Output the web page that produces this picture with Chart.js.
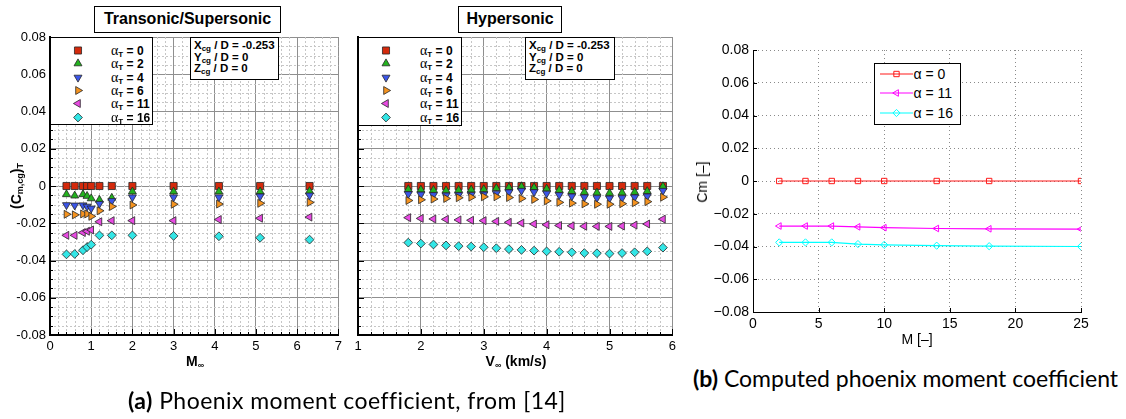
<!DOCTYPE html>
<html lang="en">
<head>
<meta charset="UTF-8">
<title>Phoenix moment coefficient</title>
<script src="https://cdn.jsdelivr.net/npm/chart.js"></script>
<style>
  body { margin: 0; background: #fff; }
  #page { position: relative; width: 1126px; height: 419px; overflow: hidden;
          font-family: 'Liberation Sans', Arial, sans-serif; color: #000; }
  #page canvas { position: absolute; }
  .box { position: absolute; background: #fff; border: 1px solid #000; box-sizing: border-box; }
  .title { font-weight: bold; font-size: 16px; text-align: center; line-height: 24px; }
  .leg { font-weight: bold; font-size: 12px; }
  .row { position: absolute; left: 0; right: 0; height: 13px; line-height: 13px; white-space: nowrap; }
  .row span.txt { position: absolute; }
  .alpha { font-weight: normal; font-family: 'Liberation Serif', serif; font-size: 14px; }
  sub { font-size: 8px; vertical-align: -2px; line-height: 0; }
  .note { font-weight: bold; font-size: 11.5px; line-height: 11.5px; padding: 2px 0 0 3px; white-space: nowrap; }
  .lbl { position: absolute; white-space: nowrap; font-weight: bold; font-size: 14px; line-height: 16px; }
  .lbl sub { font-size: 9px; }
  .mlab { position: absolute; white-space: nowrap; font-size: 14px; line-height: 16px; }
  .legB { font-size: 14px; }
  .legB .row { height: 18px; line-height: 18px; }
  .cap { position: absolute; font-family: Lato, sans-serif; font-size: 23px; line-height: 26px; white-space: nowrap; }
</style>
</head>
<body>
<div id="page">
  <canvas id="chartTS" width="346" height="375" style="left:0;top:0"></canvas>
  <canvas id="chartHyp" width="330" height="375" style="left:350px;top:0"></canvas>
  <canvas id="chartB" width="436" height="360" style="left:690px;top:0"></canvas>

  <div class="box title" style="left:94px;top:6px;width:187px;height:27px">Transonic/Supersonic</div>
  <div class="box title" style="left:458px;top:6px;width:104px;height:27px">Hypersonic</div>

  <div class="box leg" id="legTS" style="left:50px;top:37px;width:103px;height:88px"></div>
  <div class="box leg" id="legHyp" style="left:358px;top:37px;width:104px;height:89px"></div>

  <div class="box note" style="left:190px;top:37px;width:89px;height:43px">X<sub>cg</sub> / D = -0.253<br>Y<sub>cg</sub> / D = 0<br>Z<sub>cg</sub> / D = 0</div>
  <div class="box note" style="left:525px;top:37px;width:90px;height:43px">X<sub>cg</sub> / D = -0.253<br>Y<sub>cg</sub> / D = 0<br>Z<sub>cg</sub> / D = 0</div>

  <div class="lbl" style="left:16px;top:186px;transform:translate(-50%,-50%) rotate(-90deg)">(C<sub>m,cg</sub>)<sub>T</sub></div>
  <div class="lbl" style="left:195px;top:361px;transform:translate(-50%,-50%)">M<sub>∞</sub></div>
  <div class="lbl" style="left:516px;top:361px;transform:translate(-50%,-50%)">V<sub>∞</sub> (km/s)</div>

  <div class="box legB" id="legB" style="left:874px;top:63px;width:87px;height:62px;border-width:1.5px"></div>
  <div class="mlab" style="left:702px;top:182px;transform:translate(-50%,-50%) rotate(-90deg)">Cm [–]</div>
  <div class="mlab" style="left:917px;top:339px;transform:translate(-50%,-50%)">M [–]</div>

  <div class="cap" style="left:128px;top:387px;letter-spacing:0.45px"><b>(a)</b> Phoenix moment coefficient, from [14]</div>
  <div class="cap" style="left:693px;top:365px"><b>(b)</b> Computed phoenix moment coefficient</div>
</div>

<script>
  // ---- data ----
  const alphaT = ['0', '2', '4', '6', '11', '16'];

  // transonic / supersonic, x = Mach
  const machTS = [0.4, 0.6, 0.8, 0.9, 1.0, 1.2, 1.5, 2.0, 3.0, 4.1, 5.1, 6.3];
  const cmTS0  = [0, 0, 0, 0, 0, 0, 0, 0, 0, 0, 0, 0];
  const cmTS2  = [-0.0045, -0.0052, -0.0045, -0.0054, -0.0067, -0.0075, -0.0064, -0.003, -0.003, -0.003, -0.003, -0.0028];
  const cmTS4  = [-0.0102, -0.0104, -0.0103, -0.011, -0.012, -0.0095, -0.008, -0.006, -0.006, -0.006, -0.0055, -0.005];
  const cmTS6  = [-0.0152, -0.0155, -0.015, -0.015, -0.0163, -0.0133, -0.011, -0.0102, -0.0098, -0.0097, -0.0093, -0.0088];
  const cmTS11 = [-0.0265, -0.0265, -0.025, -0.0243, -0.0236, -0.0192, -0.0186, -0.0186, -0.0186, -0.018, -0.0173, -0.0167];
  const cmTS16 = [-0.0367, -0.0365, -0.0345, -0.0328, -0.0315, -0.0265, -0.0265, -0.0265, -0.0268, -0.027, -0.0278, -0.0288];

  // hypersonic, x = velocity (km/s)
  const velHyp  = [1.8, 2.0, 2.2, 2.4, 2.6, 2.8, 3.0, 3.2, 3.4, 3.6, 3.8, 4.0, 4.2, 4.4, 4.6, 4.8, 5.0, 5.2, 5.4, 5.6, 5.85];
  const cmHyp0  = [0, 0, 0, 0, 0, 0, 0, 0, 0, 0, 0, 0, 0, 0, 0, 0, 0, 0, 0, 0, 0];
  const cmHyp2  = [-0.0018, -0.002, -0.0022, -0.0024, -0.0022, -0.002, -0.0018, -0.0012, -0.0008, -0.0003, -0.0008, -0.0015, -0.0022, -0.0028, -0.0033, -0.0036, -0.0038, -0.0036, -0.0033, -0.0028, -0.0002];
  const cmHyp4  = [-0.0043, -0.0045, -0.0048, -0.005, -0.0048, -0.0047, -0.0045, -0.004, -0.0033, -0.0025, -0.0032, -0.004, -0.0048, -0.0055, -0.006, -0.0064, -0.0066, -0.0064, -0.006, -0.0055, -0.0025];
  const cmHyp6  = [-0.0078, -0.0074, -0.007, -0.0067, -0.0063, -0.006, -0.0058, -0.0058, -0.0062, -0.0067, -0.0072, -0.008, -0.0088, -0.0092, -0.0096, -0.0098, -0.0098, -0.0095, -0.009, -0.0084, -0.006];
  const cmHyp11 = [-0.017, -0.0174, -0.0177, -0.0179, -0.0182, -0.0184, -0.0186, -0.019, -0.0195, -0.0199, -0.0204, -0.0208, -0.0212, -0.0214, -0.0216, -0.0217, -0.0217, -0.0215, -0.021, -0.0204, -0.0178];
  const cmHyp16 = [-0.0304, -0.0309, -0.0314, -0.0319, -0.0323, -0.0325, -0.0329, -0.0334, -0.0339, -0.0343, -0.0347, -0.0351, -0.0353, -0.0356, -0.036, -0.0361, -0.0363, -0.036, -0.0356, -0.0351, -0.0331];

  // computed, x = Mach
  const alphaB = ['0', '11', '16'];
  const machB  = [2, 4, 6, 8, 10, 14, 18, 25];
  const cmB0   = [0, 0, 0, 0, 0, 0, 0, 0];
  const cmB11  = [-0.0275, -0.0275, -0.0275, -0.028, -0.0285, -0.029, -0.0292, -0.0294];
  const cmB16  = [-0.0375, -0.0375, -0.0375, -0.0385, -0.039, -0.0395, -0.0398, -0.04];

  // ---- styles ----
  const fam = "'Liberation Sans', Arial, sans-serif";
  Chart.defaults.font.family = fam;

  const tecColors = ['#d42a0c', '#22b21e', '#3b55e8', '#f5931f', '#e84ae2', '#33e6e6'];
  const tecMarkers = [
    { pointStyle: 'rect', rotation: 0, radius: 5 },
    { pointStyle: 'triangle', rotation: 0, radius: 4.6 },
    { pointStyle: 'triangle', rotation: 180, radius: 4.6 },
    { pointStyle: 'triangle', rotation: 90, radius: 4.6 },
    { pointStyle: 'triangle', rotation: 270, radius: 4.6 },
    { pointStyle: 'rectRot', rotation: 0, radius: 4.4 }
  ];
  const bColors = ['#ff1a1a', '#ff00ff', '#00ffff'];
  const bMarkers = [
    { pointStyle: 'rect', rotation: 0, radius: 3.8 },
    { pointStyle: 'triangle', rotation: 270, radius: 3.8 },
    { pointStyle: 'rectRot', rotation: 0, radius: 3.6 }
  ];

  // minor grid + inward ticks
  const framePlugin = {
    id: 'frame',
    beforeDatasetsDraw(chart, args, o) {
      if (!o.minorX) return;
      const { ctx, chartArea: a, scales: { x, y } } = chart;
      ctx.save();
      ctx.lineWidth = 1;
      ctx.strokeStyle = o.minorColor;
      ctx.setLineDash(o.dash);
      const nx = Math.round((x.max - x.min) / o.minorX);
      for (let i = 1; i < nx; i++) {
        if (i % o.everyX === 0) continue;
        const px = Math.round(x.getPixelForValue(x.min + i * o.minorX)) + 0.5;
        ctx.beginPath(); ctx.moveTo(px, a.top); ctx.lineTo(px, a.bottom); ctx.stroke();
      }
      const ny = Math.round((y.max - y.min) / o.minorY);
      for (let i = 1; i < ny; i++) {
        if (i % o.everyY === 0) continue;
        const py = Math.round(y.getPixelForValue(y.min + i * o.minorY)) + 0.5;
        ctx.beginPath(); ctx.moveTo(a.left, py); ctx.lineTo(a.right, py); ctx.stroke();
      }
      ctx.restore();
    },
    afterDatasetsDraw(chart, args, o) {
      if (!o.stepX) return;
      const { ctx, chartArea: a, scales: { x, y } } = chart;
      ctx.save();
      ctx.strokeStyle = '#000';
      ctx.lineWidth = 1;
      const nx = Math.round((x.max - x.min) / o.stepX);
      for (let i = 0; i <= nx; i++) {
        const len = i % o.everyX === 0 ? o.tickMajor : o.tickMinor;
        const px = Math.round(x.getPixelForValue(x.min + i * o.stepX)) + 0.5;
        ctx.beginPath(); ctx.moveTo(px, a.bottom); ctx.lineTo(px, a.bottom - len); ctx.stroke();
      }
      const ny = Math.round((y.max - y.min) / o.stepY);
      for (let i = 0; i <= ny; i++) {
        const len = i % o.everyY === 0 ? o.tickMajor : o.tickMinor;
        const py = Math.round(y.getPixelForValue(y.min + i * o.stepY)) + 0.5;
        ctx.beginPath(); ctx.moveTo(a.left, py); ctx.lineTo(a.left + len, py); ctx.stroke();
      }
      ctx.restore();
    }
  };
  Chart.register(framePlugin);

  function tecLabel(v) {
    return Math.abs(v) < 1e-9 ? '0' : v.toFixed(2);
  }
  function matLabel(v) {
    if (Math.abs(v) < 1e-9) return '0';
    return v < 0 ? '\u2212' + Math.abs(v).toFixed(2) : v.toFixed(2);
  }

  function tecSets(xs, series) {
    return series.map((ys, i) => ({
      label: 'αT = ' + alphaT[i],
      data: xs.map((x, j) => ({ x: x, y: ys[j] })),
      showLine: false,
      pointStyle: tecMarkers[i].pointStyle,
      pointRotation: tecMarkers[i].rotation,
      pointRadius: tecMarkers[i].radius,
      pointBackgroundColor: tecColors[i],
      backgroundColor: tecColors[i],
      pointBorderColor: '#262626',
      borderColor: '#262626',
      pointBorderWidth: 0.8,
      order: series.length - i
    }));
  }

  function tecOptions(xmin, xmax, showY, pad, yWidth) {
    return {
      responsive: false,
      animation: false,
      events: [],
      layout: { padding: pad },
      plugins: {
        legend: { display: false },
        tooltip: { enabled: false },
        frame: { minorX: 0.2, everyX: 5, minorY: 0.005, everyY: 4, minorColor: '#c6c6c6', dash: [2, 2],
                 stepX: 0.2, stepY: 0.005, tickMajor: 6, tickMinor: 3 }
      },
      scales: {
        x: {
          type: 'linear', min: xmin, max: xmax,
          ticks: { stepSize: 1, color: '#000', font: { size: 13 }, padding: 4, maxRotation: 0, autoSkip: false },
          grid: { color: '#8f8f8f', lineWidth: 1, drawTicks: false },
          border: { color: '#000', width: 2 },
          afterFit: s => { s.height = 40; }
        },
        y: {
          type: 'linear', min: -0.08, max: 0.08,
          ticks: { stepSize: 0.02, display: showY, color: '#000', font: { size: 13 }, padding: 4, callback: tecLabel },
          grid: { color: '#8f8f8f', lineWidth: 1, drawTicks: false },
          border: { color: '#000', width: 2 },
          afterFit: s => { s.width = yWidth; }
        }
      }
    };
  }

  new Chart(document.getElementById('chartTS'), {
    type: 'scatter',
    data: { datasets: tecSets(machTS, [cmTS0, cmTS2, cmTS4, cmTS6, cmTS11, cmTS16]) },
    options: tecOptions(0, 7, true, { left: 0, right: 5.5, top: 37, bottom: 0 }, 50)
  });

  new Chart(document.getElementById('chartHyp'), {
    type: 'scatter',
    data: { datasets: tecSets(velHyp, [cmHyp0, cmHyp2, cmHyp4, cmHyp6, cmHyp11, cmHyp16]) },
    options: tecOptions(1, 6, false, { left: 0, right: 6.5, top: 37, bottom: 0 }, 8)
  });

  new Chart(document.getElementById('chartB'), {
    type: 'scatter',
    data: {
      datasets: [cmB0, cmB11, cmB16].map((ys, i) => ({
        label: 'α = ' + alphaB[i],
        data: machB.map((x, j) => ({ x: x, y: ys[j] })),
        showLine: true,
        borderColor: bColors[i],
        borderWidth: 1.2,
        pointStyle: bMarkers[i].pointStyle,
        pointRotation: bMarkers[i].rotation,
        pointRadius: bMarkers[i].radius,
        pointBackgroundColor: 'rgba(0,0,0,0)',
        pointBorderColor: bColors[i],
        pointBorderWidth: 1
      }))
    },
    options: {
      responsive: false,
      animation: false,
      events: [],
      layout: { padding: { left: 0, right: 45, top: 50, bottom: 0 } },
      plugins: {
        legend: { display: false },
        tooltip: { enabled: false },
        frame: { stepX: 5, everyX: 1, stepY: 0.02, everyY: 1, tickMajor: 4, tickMinor: 4 }
      },
      scales: {
        x: {
          type: 'linear', min: 0, max: 25,
          ticks: { stepSize: 5, color: '#000', font: { size: 14 }, padding: 4, maxRotation: 0 },
          grid: { color: '#8a8a8a', lineWidth: 1, drawTicks: false },
          border: { color: '#000', width: 1, dash: [1, 3] },
          afterFit: s => { s.height = 48; }
        },
        y: {
          type: 'linear', min: -0.08, max: 0.08,
          ticks: { stepSize: 0.02, color: '#000', font: { size: 14 }, padding: 4, callback: matLabel },
          grid: { color: '#8a8a8a', lineWidth: 1, drawTicks: false },
          border: { color: '#000', width: 1, dash: [1, 3] },
          afterFit: s => { s.width = 63; }
        }
      }
    }
  });

  // ---- legends ----
  function markerCanvas(w, h, style, fill, stroke, bw, line) {
    const c = document.createElement('canvas');
    c.width = w; c.height = h;
    const ctx = c.getContext('2d');
    if (line) {
      ctx.strokeStyle = stroke; ctx.lineWidth = 1.2;
      ctx.beginPath(); ctx.moveTo(0, h / 2); ctx.lineTo(w, h / 2); ctx.stroke();
    }
    ctx.fillStyle = fill; ctx.strokeStyle = stroke; ctx.lineWidth = bw;
    Chart.helpers.drawPoint(ctx, { pointStyle: style.pointStyle, rotation: style.rotation,
                                   radius: style.radius, borderWidth: bw }, w / 2, h / 2);
    return c;
  }

  function tecLegend(id, mx, tx) {
    const box = document.getElementById(id);
    alphaT.forEach((a, i) => {
      const row = document.createElement('div');
      row.className = 'row';
      row.style.top = (5.8 + i * 13.4) + 'px';
      const c = markerCanvas(14, 13, tecMarkers[i], tecColors[i], '#262626', 0.8, false);
      c.style.left = (mx - 7) + 'px'; c.style.top = '0px';
      row.appendChild(c);
      const t = document.createElement('span');
      t.className = 'txt';
      t.style.left = tx + 'px';
      t.innerHTML = '<span class="alpha">α</span><sub>T</sub> = ' + a;
      row.appendChild(t);
      box.appendChild(row);
    });
  }
  tecLegend('legTS', 27, 60);
  tecLegend('legHyp', 27, 61);

  (function () {
    const box = document.getElementById('legB');
    alphaB.forEach((a, i) => {
      const row = document.createElement('div');
      row.className = 'row';
      row.style.top = (0.8 + i * 19.5) + 'px';
      const c = markerCanvas(33, 18, bMarkers[i], 'rgba(0,0,0,0)', bColors[i], 1, true);
      c.style.left = '4.5px'; c.style.top = '0px';
      row.appendChild(c);
      const t = document.createElement('span');
      t.className = 'txt';
      t.style.left = '38.5px';
      t.textContent = 'α = ' + a;
      row.appendChild(t);
      box.appendChild(row);
    });
  })();
</script>
</body>
</html>
